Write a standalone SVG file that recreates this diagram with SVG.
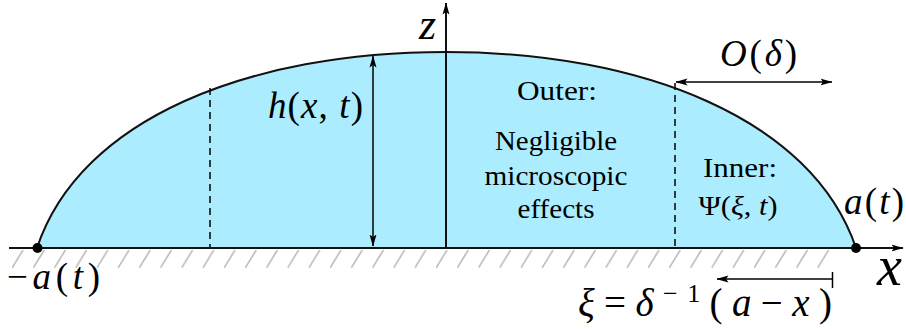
<svg xmlns="http://www.w3.org/2000/svg" width="906" height="329" viewBox="0 0 906 329">
<style>
.m{font-style:italic;fill:#000}
.r{font-style:normal;fill:#000}
.rm{font-style:normal}
.ar{fill:none;stroke:#000;stroke-width:1.5}
.ax{fill:none;stroke:#111;stroke-width:2}
.dash{fill:none;stroke:#111;stroke-width:1.6;stroke-dasharray:7 5}
</style>
<defs>
<marker id="ah" markerUnits="userSpaceOnUse" viewBox="0 0 12 8" refX="11.5" refY="4" markerWidth="12" markerHeight="8" orient="auto-start-reverse">
<path d="M0,0.5 L12,4 L0,7.5 L2.5,4 Z" fill="#000"/>
</marker>
<pattern id="hatch" patternUnits="userSpaceOnUse" x="12" y="250" width="21.2" height="18">
<line x1="0" y1="18" x2="11" y2="0" stroke="#bbb" stroke-width="1.6"/>
</pattern>
</defs>
<rect width="906" height="329" fill="#fff"/>
<g id="ground">
<rect x="10" y="250" width="822" height="18" fill="url(#hatch)"/>
</g>
<g id="drop">
<path d="M37,248 C80,118 250,52 446,52 C640,52 812,118 856,248 Z" fill="#abedff" stroke="#111" stroke-width="2"/>
<line class="dash" x1="210" y1="88" x2="210" y2="248"/>
<line class="dash" x1="675" y1="83" x2="675" y2="248"/>
</g>
<g id="connectors">
<line class="ax" x1="9" y1="248" x2="903" y2="248" marker-end="url(#ah)"/>
<line class="ax" x1="446" y1="248" x2="446" y2="3" marker-end="url(#ah)"/>
<line class="ar" x1="373" y1="56" x2="373" y2="246" marker-start="url(#ah)" marker-end="url(#ah)"/>
<line class="ar" x1="676" y1="82" x2="832" y2="82" marker-start="url(#ah)" marker-end="url(#ah)"/>
<line class="ar" x1="832" y1="279" x2="717" y2="279" marker-end="url(#ah)"/>
<line class="ar" x1="832.5" y1="272" x2="832.5" y2="288"/>
</g>
<g id="points">
<circle cx="37.5" cy="248" r="5" fill="#000"/>
<circle cx="856" cy="248" r="5" fill="#000"/>
</g>
<g id="labels" style="font-family:'Liberation Serif',serif">
<text class="m" x="419" y="39" font-size="44">z</text>
<text class="m" x="877" y="285" font-size="56">x</text>
<text class="m" x="7" y="289" font-size="37" textLength="93"><tspan class="rm">−</tspan>a<tspan class="rm">(</tspan>t<tspan class="rm">)</tspan></text>
<text class="m" x="844" y="214" font-size="37" textLength="60"><tspan>a</tspan><tspan class="rm">(</tspan>t<tspan class="rm">)</tspan></text>
<text class="m" x="268" y="118" font-size="37" textLength="95">h<tspan class="rm">(</tspan>x<tspan class="rm">,</tspan> t<tspan class="rm">)</tspan></text>
<text class="m" x="720" y="66" font-size="37" textLength="77">O<tspan class="rm">(</tspan>δ<tspan class="rm">)</tspan></text>
<text class="m" x="578" y="316" font-size="39" textLength="254">ξ<tspan class="rm">=</tspan>δ<tspan class="rm" font-size="26" dy="-14">−1</tspan><tspan class="rm" dy="14">(</tspan>a<tspan class="rm">−</tspan>x<tspan class="rm">)</tspan></text>
</g>
<g id="regions" style="font-family:'Liberation Serif',serif">
<text class="r" x="557" y="100" font-size="27" text-anchor="middle" textLength="80" lengthAdjust="spacingAndGlyphs">Outer:</text>
<text class="r" x="556" y="150" font-size="27" text-anchor="middle" textLength="122" lengthAdjust="spacingAndGlyphs">Negligible</text>
<text class="r" x="556" y="185" font-size="27" text-anchor="middle" textLength="143" lengthAdjust="spacingAndGlyphs">microscopic</text>
<text class="r" x="556" y="218" font-size="27" text-anchor="middle" textLength="77" lengthAdjust="spacingAndGlyphs">effects</text>
<text class="r" x="740" y="177" font-size="27" text-anchor="middle" textLength="74" lengthAdjust="spacingAndGlyphs">Inner:</text>
<text class="m" x="738" y="215" font-size="27" text-anchor="middle" textLength="79" lengthAdjust="spacingAndGlyphs"><tspan class="rm">Ψ(</tspan>ξ<tspan class="rm">,</tspan> t<tspan class="rm">)</tspan></text>
</g>
</svg>
